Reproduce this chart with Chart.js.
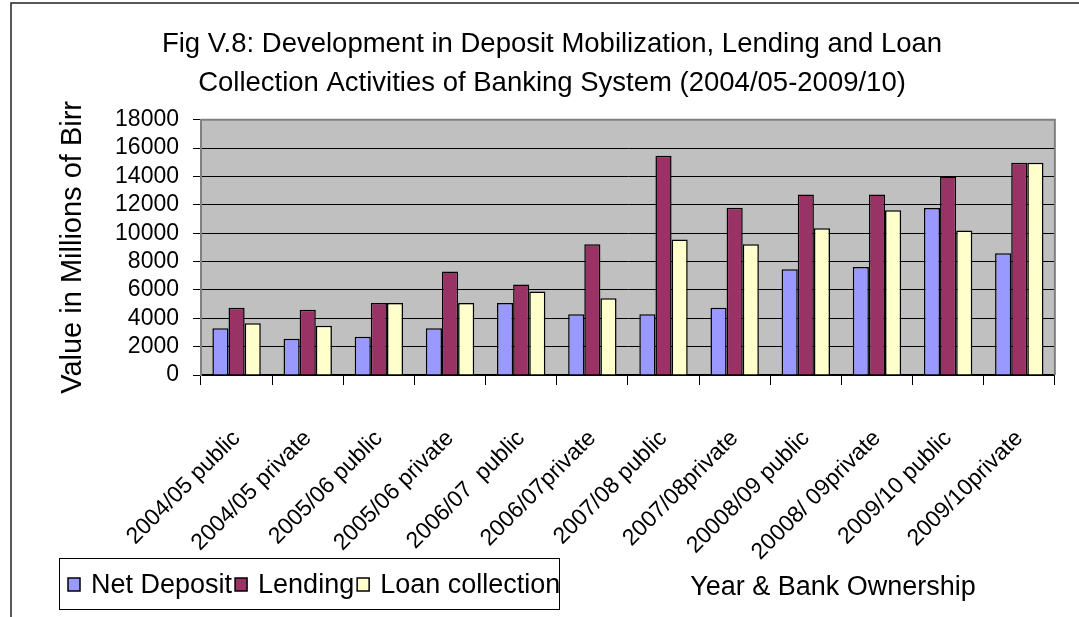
<!DOCTYPE html>
<html>
<head>
<meta charset="utf-8">
<title>Fig V.8</title>
<script src="https://cdn.jsdelivr.net/npm/chart.js@4.4.1/dist/chart.umd.min.js"></script>
<style>
  html, body { margin: 0; padding: 0; background: #fff; }
  canvas { display: block; }
</style>
</head>
<body>
<canvas id="chart" width="1079" height="617"></canvas>
<script>
// Categories (year & bank ownership)
const categories = [
  "2004/05 public", "2004/05 private", "2005/06 public", "2005/06 private",
  "2006/07  public", "2006/07private", "2007/08 public", "2007/08private",
  "20008/09 public", "20008/ 09private", "2009/10 public", "2009/10private",
];

// Values in millions of Birr
const netDeposit = [3300, 2550, 2700, 3300, 5080, 4280, 4280, 4750, 7460, 7620, 11770, 8590];
const lending = [4750, 4600, 5080, 7300, 6380, 9220, 15460, 11800, 12730, 12730, 14000, 14970];
const loanCollection = [3650, 3480, 5080, 5080, 5880, 5410, 9550, 9220, 10350, 11620, 10190, 14970];

// Y axis ticks
const yTicks = [0, 2000, 4000, 6000, 8000, 10000, 12000, 14000, 16000, 18000];

const seriesNames = ["Net Deposit", "Lending", "Loan collection"];

const ARIAL = "'Liberation Sans', Arial, sans-serif";

// fond gris + cadre de la zone de tracé
const plotArea = {
  id: "plotArea",
  beforeDraw(chart) {
    const { ctx, chartArea: a } = chart;
    ctx.save();
    ctx.fillStyle = "#c0c0c0";
    ctx.fillRect(a.left, a.top, a.right - a.left, a.bottom - a.top);
    ctx.restore();
  },
  afterDraw(chart) {
    const { ctx, chartArea: a } = chart;
    ctx.save();
    ctx.strokeStyle = "#808080";
    ctx.lineWidth = 2;
    ctx.beginPath();
    ctx.moveTo(a.left, a.top);
    ctx.lineTo(a.right, a.top);
    ctx.lineTo(a.right, a.bottom);
    ctx.stroke();

    // page frame (top and left)
    ctx.strokeStyle = "#222";
    ctx.lineWidth = 1.5;
    ctx.beginPath();
    ctx.moveTo(1079, 3);
    ctx.lineTo(11, 3);
    ctx.lineTo(11, 617);
    ctx.stroke();

    // legend box
    ctx.strokeStyle = "#000";
    ctx.lineWidth = 1;
    ctx.strokeRect(59.5, 558.5, 500, 51);
    ctx.font = "27px " + ARIAL;
    ctx.textBaseline = "middle";
    ctx.textAlign = "left";
    let x = 68;
    chart.data.datasets.forEach((ds) => {
      ctx.fillStyle = ds.backgroundColor;
      ctx.fillRect(x, 578, 12, 13);
      ctx.strokeStyle = "#000";
      ctx.lineWidth = 1.5;
      ctx.strokeRect(x, 578, 12, 13);
      x += 12 + 11;
      ctx.fillStyle = "#000";
      ctx.fillText(ds.label, x, 586);
      x += ctx.measureText(ds.label).width + 3;
    });

    // x axis title
    ctx.textAlign = "center";
    ctx.fillText("Year & Bank Ownership", 833, 588);
    ctx.restore();
  },
};

new Chart(document.getElementById("chart"), {
  type: "bar",
  data: {
    labels: categories,
    datasets: [
      { label: seriesNames[0], data: netDeposit, backgroundColor: "#9999ff" },
      { label: seriesNames[1], data: lending, backgroundColor: "#993366" },
      { label: seriesNames[2], data: loanCollection, backgroundColor: "#ffffcc" },
    ].map((d) => ({
      ...d,
      borderColor: "#000",
      borderWidth: 1.5,
      categoryPercentage: 0.68,
      barPercentage: 1.0,
    })),
  },
  options: {
    responsive: false,
    animation: false,
    events: [],
    layout: { padding: { left: 30, right: 5, top: 0, bottom: 0 } },
    plugins: {
      legend: { display: false },
      tooltip: { enabled: false },
      title: {
        display: true,
        text: [
          "Fig V.8: Development in Deposit Mobilization, Lending and Loan",
          "Collection Activities of Banking System (2004/05-2009/10)",
        ],
        color: "#000",
        font: { family: ARIAL, size: 27.5, weight: "normal", lineHeight: 1.45 },
        padding: { top: 24, bottom: 16 },
      },
    },
    scales: {
      x: {
        grid: {
          offset: true,
          drawOnChartArea: false,
          drawTicks: true,
          tickLength: 10,
          color: "#000",
        },
        border: { color: "#000", width: 1.5 },
        ticks: {
          autoSkip: false,
          minRotation: 45,
          maxRotation: 45,
          padding: 40,
          color: "#000",
          font: { family: ARIAL, size: 23 },
        },
        afterFit(scale) {
          scale.height = 617 - 375;
        },
      },
      y: {
        min: 0,
        max: 18000,
        afterBuildTicks(scale) {
          scale.ticks = yTicks.map((v) => ({ value: v }));
        },
        grid: {
          color: (c) => (c.tick && c.tick.value === 18000 ? "#808080" : "#000"),
          tickColor: "#000",
          tickLength: 8,
          lineWidth: 1,
        },
        border: { color: "#808080", width: 2 },
        ticks: {
          autoSkip: false,
          padding: 14,
          color: "#000",
          font: { family: ARIAL, size: 23 },
          callback: (v) => String(v),
        },
        title: {
          display: true,
          text: "Value in Millions of Birr",
          color: "#000",
          font: { family: ARIAL, size: 29 },
          padding: { top: 26, bottom: 0 },
        },
        afterFit(scale) {
          scale.width = 201 - 30;
        },
      },
    },
  },
  plugins: [plotArea],
});
</script>
</body>
</html>
